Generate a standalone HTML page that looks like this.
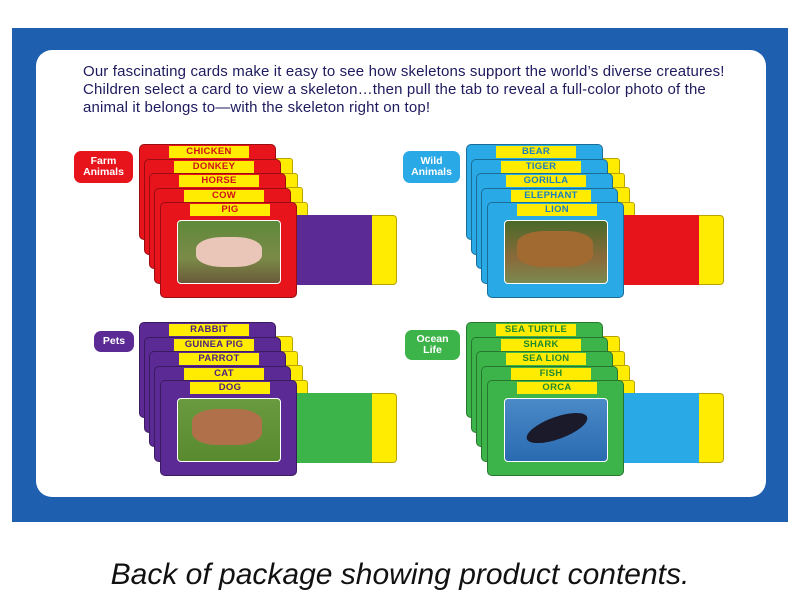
<!DOCTYPE html>
<html><head><meta charset="utf-8"><style>
*{margin:0;padding:0;box-sizing:border-box}
body{width:800px;height:600px;background:#fff;position:relative;overflow:hidden;font-family:"Liberation Sans",sans-serif}
.abs{position:absolute}
.g{position:absolute;width:320px;height:170px}
.card{position:absolute;width:137px;height:96px;border-radius:5px;border:1px solid rgba(0,0,0,.35)}
.yt{position:absolute;width:22px;height:40px;background:#ffec00;border:1px solid #b8a400;border-radius:3px}
.lab{position:absolute;left:29px;top:1px;width:80px;height:12px;background:#ffec00;font-weight:bold;font-size:9.5px;line-height:12px;text-align:center;letter-spacing:.3px}
.photo{position:absolute;left:16px;top:17px;width:104px;height:64px;border-radius:4px;border:1px solid #fff}
.pull{position:absolute;left:136px;top:13px;width:77px;height:70px}
.pully{position:absolute;left:212px;top:13px;width:25px;height:70px;background:#ffec00;border:1px solid #b8a400;border-left:none;border-radius:0 4px 4px 0}
.pill{position:absolute;color:#fff;font-weight:bold;font-size:10.5px;line-height:11px;text-align:center;border-radius:7px;display:flex;align-items:center;justify-content:center}
</style></head><body>
<div class="abs" style="left:12px;top:28px;width:776px;height:494px;background:#1f5fb0"></div>
<div class="abs" style="left:36px;top:50px;width:730px;height:447px;background:#fff;border-radius:16px"></div>
<div class="abs" style="left:83px;top:63px;white-space:nowrap;font-size:15px;line-height:18px;letter-spacing:0.15px;color:#1e1a5e">Our fascinating cards make it easy to see how skeletons support the world’s diverse creatures!<br>Children select a card to view a skeleton…then pull the tab to reveal a full-color photo of the<br>animal it belongs to—with the skeleton right on top!</div>

<div class="pill" style="left:74px;top:151px;width:59px;height:32px;background:#e8141c">Farm<br>Animals</div>
<div class="pill" style="left:403px;top:151px;width:57px;height:32px;background:#29a9e6">Wild<br>Animals</div>
<div class="pill" style="left:94px;top:331px;width:40px;height:21px;background:#5b2a94">Pets</div>
<div class="pill" style="left:405px;top:330px;width:55px;height:30px;background:#3db449">Ocean<br>Life</div>

<!-- Farm -->
<div class="g" style="left:139px;top:144px">
<div class="yt" style="left:132px;top:14px"></div><div class="card" style="left:0;top:0;background:#e8141c"><div class="lab" style="color:#d0101a">CHICKEN</div></div>
<div class="yt" style="left:137px;top:29px"></div><div class="card" style="left:5px;top:14.5px;background:#e8141c"><div class="lab" style="color:#d0101a">DONKEY</div></div>
<div class="yt" style="left:142px;top:43px"></div><div class="card" style="left:10px;top:29px;background:#e8141c"><div class="lab" style="color:#d0101a">HORSE</div></div>
<div class="yt" style="left:147px;top:58px"></div><div class="card" style="left:15px;top:43.5px;background:#e8141c"><div class="lab" style="color:#d0101a">COW</div></div>
<div style="position:absolute;left:21px;top:58px;width:240px;height:96px">
<div class="pull" style="background:#5b2a94"></div><div class="pully"></div>
<div class="card" style="left:0;top:0;background:#e8141c"><div class="lab" style="color:#d0101a">PIG</div><div class="photo" style="background:linear-gradient(#5f8a3a,#7a8a48 60%,#6b5a3a)"><div class="abs" style="left:18px;top:16px;width:66px;height:30px;border-radius:40%;background:#e9c6b8"></div></div></div>
</div></div>

<!-- Wild -->
<div class="g" style="left:466px;top:144px">
<div class="yt" style="left:132px;top:14px"></div><div class="card" style="left:0;top:0;background:#29a9e6"><div class="lab" style="color:#1a7fc0">BEAR</div></div>
<div class="yt" style="left:137px;top:29px"></div><div class="card" style="left:5px;top:14.5px;background:#29a9e6"><div class="lab" style="color:#1a7fc0">TIGER</div></div>
<div class="yt" style="left:142px;top:43px"></div><div class="card" style="left:10px;top:29px;background:#29a9e6"><div class="lab" style="color:#1a7fc0">GORILLA</div></div>
<div class="yt" style="left:147px;top:58px"></div><div class="card" style="left:15px;top:43.5px;background:#29a9e6"><div class="lab" style="color:#1a7fc0">ELEPHANT</div></div>
<div style="position:absolute;left:21px;top:58px;width:240px;height:96px">
<div class="pull" style="background:#e8141c"></div><div class="pully"></div>
<div class="card" style="left:0;top:0;background:#29a9e6"><div class="lab" style="color:#1a7fc0">LION</div><div class="photo" style="background:linear-gradient(#4a6a2a,#8a6a3a 60%,#7a8a50)"><div class="abs" style="left:12px;top:10px;width:76px;height:36px;border-radius:35%;background:#a06a30"></div></div></div>
</div></div>

<!-- Pets -->
<div class="g" style="left:139px;top:322px">
<div class="yt" style="left:132px;top:14px"></div><div class="card" style="left:0;top:0;background:#5b2a94"><div class="lab" style="color:#4a1f80">RABBIT</div></div>
<div class="yt" style="left:137px;top:29px"></div><div class="card" style="left:5px;top:14.5px;background:#5b2a94"><div class="lab" style="color:#4a1f80">GUINEA PIG</div></div>
<div class="yt" style="left:142px;top:43px"></div><div class="card" style="left:10px;top:29px;background:#5b2a94"><div class="lab" style="color:#4a1f80">PARROT</div></div>
<div class="yt" style="left:147px;top:58px"></div><div class="card" style="left:15px;top:43.5px;background:#5b2a94"><div class="lab" style="color:#4a1f80">CAT</div></div>
<div style="position:absolute;left:21px;top:58px;width:240px;height:96px">
<div class="pull" style="background:#3db449"></div><div class="pully"></div>
<div class="card" style="left:0;top:0;background:#5b2a94"><div class="lab" style="color:#4a1f80">DOG</div><div class="photo" style="background:linear-gradient(#6a9a40,#5a8a30)"><div class="abs" style="left:14px;top:10px;width:70px;height:36px;border-radius:35%;background:#b0704a"></div></div></div>
</div></div>

<!-- Ocean -->
<div class="g" style="left:466px;top:322px">
<div class="yt" style="left:132px;top:14px"></div><div class="card" style="left:0;top:0;background:#3db449"><div class="lab" style="color:#1f8a30">SEA TURTLE</div></div>
<div class="yt" style="left:137px;top:29px"></div><div class="card" style="left:5px;top:14.5px;background:#3db449"><div class="lab" style="color:#1f8a30">SHARK</div></div>
<div class="yt" style="left:142px;top:43px"></div><div class="card" style="left:10px;top:29px;background:#3db449"><div class="lab" style="color:#1f8a30">SEA LION</div></div>
<div class="yt" style="left:147px;top:58px"></div><div class="card" style="left:15px;top:43.5px;background:#3db449"><div class="lab" style="color:#1f8a30">FISH</div></div>
<div style="position:absolute;left:21px;top:58px;width:240px;height:96px">
<div class="pull" style="background:#29a9e6"></div><div class="pully"></div>
<div class="card" style="left:0;top:0;background:#3db449"><div class="lab" style="color:#1f8a30">ORCA</div><div class="photo" style="background:linear-gradient(#4a8ac8,#2a6ab0)"><div class="abs" style="left:20px;top:18px;width:64px;height:22px;border-radius:50%;background:#1a1a2a;transform:rotate(-20deg)"></div></div></div>
</div></div>

<div class="abs" style="left:0;top:557px;width:800px;text-align:center;font-style:italic;font-size:30px;line-height:36px;color:#111">Back of package showing product contents.</div>
</body></html>
